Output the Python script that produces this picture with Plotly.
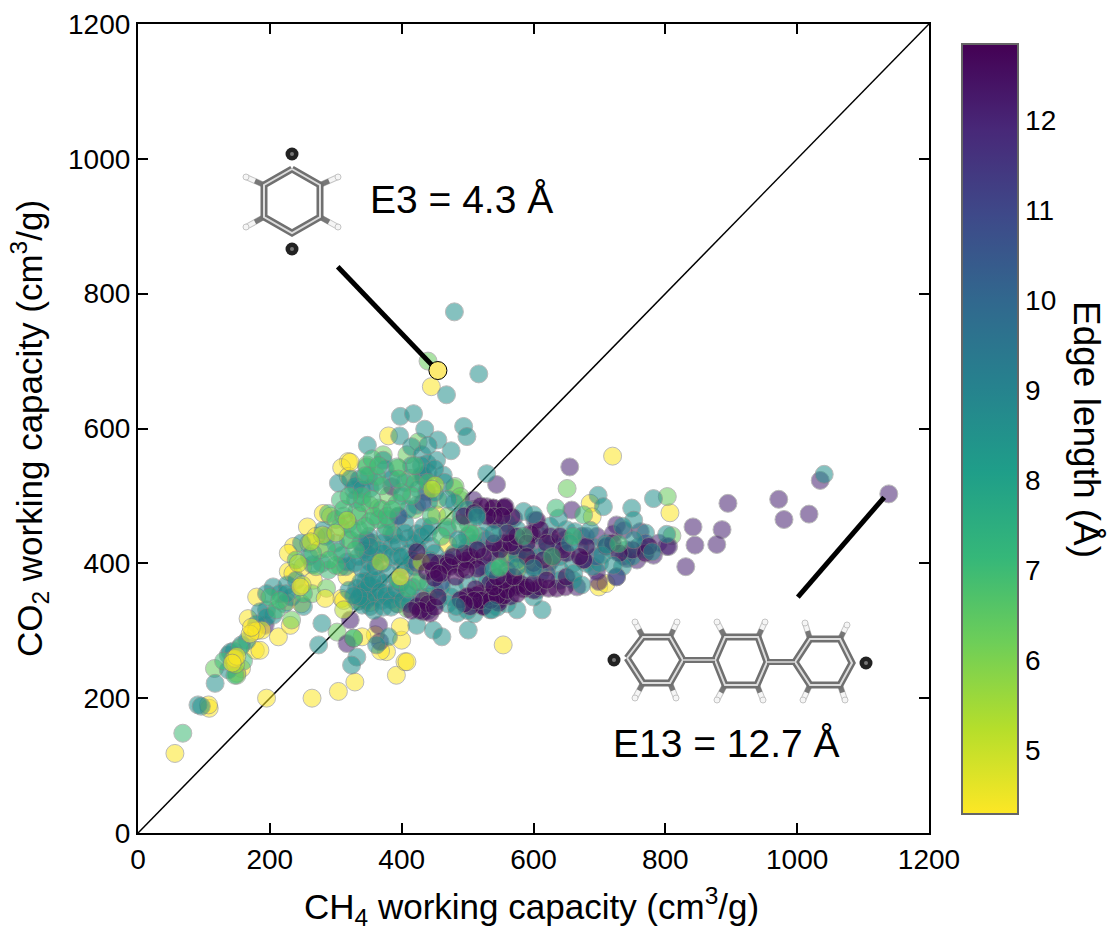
import plotly.graph_objects as go

# Edge lengths (Angstrom) of the point groups
EDGE_YELLOW = 4.3
EDGE_LIME = 5.2
EDGE_LIGHTGREEN = 6.3
EDGE_GREEN = 7.0
EDGE_TEAL = 8.6
EDGE_BLUE = 10.8
EDGE_PURPLE = 12.1
EDGE_DARK = 12.7

yellow_pts = [(56,118),(108,185),(107,190),(195,200),(264,200),(304,210),(329,224),(392,234),(405,254),(408,254),
(377,269),(360,294),(400,286),(398,306),(340,291),(554,279),(445,662),(380,589),(319,551),(309,542),(319,529),(322,550),
(281,474),(257,454),(236,425),(228,415),(228,388),(259,430),(180,350),(167,318),(213,291),(178,271),
(185,271),(157,244),(150,237),(231,308),(309,348),(266,375),(226,343),(248,340),(317,380),
(418,397),(453,472),(720,559),(807,475),(686,489),(689,469),(699,365),(582,412),(575,390),(270,440),(292,470),
(312,345),(335,345),(368,270),(352,342),(395,340),(470,428),(440,350),(710,370),(620,395),
(555,415),(565,405),(590,400),(235,385),(250,395),(275,420)]
yellow_front = [(147,259),(150,262),(143,252),(175,299),(188,301),(180,300),(170,295),(172,305),(284,348),(398,380),(246,365)]
lime_pts = [(451,516),(317,464),(280,442),(243,400),(312,331),(249,368),(446,510),(300,445),(262,432),(368,402),(430,402),(145,258),(148,250)]
lightgreen_pts = [(116,244),(150,234),(479,511),(489,494),(372,561),(395,541),(413,526),(425,580),(408,561),(355,430),(365,482),
(352,486),(327,289),(302,298),(423,373),(408,333),(264,355),(233,316),(286,363),(307,395),(319,435),(347,546),(651,511),(803,499),
(810,441),(481,514),(489,499),(440,700),(380,500),(335,470),(420,480),(455,495),(470,470),(510,480),(385,445)]
purple_pts = [(1139,503),(1035,523),(972,495),(980,465),(1018,473),(895,489),(842,454),(886,450),(845,427),(878,428),(831,395),
(655,543),(544,517),(658,479),(726,457),(762,447),(721,444),(802,425),(782,412),(757,405),(742,407),(726,380),(696,388),(699,373),
(666,365),(605,360),(347,435),(342,420),(385,514),(433,529),(438,506),(317,281),(365,308),(367,284),(193,308),(322,316),(570,467),
(605,425),(648,435),(673,440),(696,440),(737,449),(625,402),(575,415),(529,435),(737,410),(790,430),(805,425),(509,494),(555,482)]
green_pts = [(68,148),(289,474),(332,477),(307,494),(393,489),(377,454),(352,462),(319,459),(322,435),(302,417),(286,422),(289,390),
(307,454),(362,529),(393,543),(347,543),(420,519),(501,459),(428,373),(509,444),(468,454),(147,234),(327,289),(251,355),
(210,331),(504,444),(489,459),(340,490),(365,465),(330,420),(300,397),(290,405),
(270,395),(240,405),(415,500),(445,470),(460,440),(395,375),(410,362),(160,255),(370,515),(345,530),(200,350),(440,520),(490,430),
(300,465),(312,470),(325,450),(335,450),(345,455),(358,470),(370,480),(378,470),(340,500),(312,480),(355,495),
(320,500),(385,480),(400,505),(420,545),(395,525),(355,555),(365,545),(130,255),(155,275),(215,345),(265,415)]
green_front = [(634,482),(676,472),(729,429),(628,410),(549,395),(548,393),(585,440),(660,440)]
teal_pts = [(480,773),(517,681),(468,650),(398,618),(418,622),(435,599),(397,589),(455,583),(494,603),(499,588),(475,567),(348,575),
(415,573),(431,561),(372,553),(439,548),(453,553),(463,531),(529,533),(304,519),(327,509),(336,525),(352,511),(423,486),(441,491),
(585,477),(423,444),(410,437),(388,442),(372,430),(352,402),(372,400),(395,410),(433,454),(317,402),
(281,449),(248,430),(279,400),(205,365),(195,355),(195,331),(226,368),(233,350),(251,336),(185,328),(205,323),(345,373),(332,363),
(360,363),(375,370),(390,355),(393,340),(352,336),(332,343),(370,345),(408,355),(423,308),(448,301),(461,291),(501,301),(279,311),
(274,279),(332,261),(324,249),(380,291),(362,279),(484,326),(534,331),(575,331),(613,331),(157,279),(137,264),(137,242),(117,222),
(91,190),(96,188),(140,268),(1041,532),(782,496),(749,482),(752,464),(802,443),
(385,425),(400,395),(350,385),(340,392),(335,410),(365,420),(380,385),(425,420),(445,425),(420,395),(450,415),(470,405),(500,425),
(520,440),(350,350),(365,375),(320,360),(338,355),(405,390),(430,350),(455,345),(475,350),(510,325),(525,340),(560,340),(600,350),
(640,390),(380,465),(395,470),(405,460),(445,455),(405,520),(430,530),(450,505),(410,480),(315,395),(215,355),(222,340),
(265,398),(300,430),(350,440),(490,345),(560,460),(610,440),(625,455),(690,425),(735,455),(770,445),(545,425),(575,450),
(338,372),(344,360),(350,368),(356,376),(362,350),(368,358),(376,352),(384,346),(392,362),(398,370),(346,345),(340,338),(358,330),
(372,335),(384,335),(402,345),(412,340),(335,350),(327,352),(416,365),(360,410),(372,415),(385,410),(395,430),(410,415),(420,430),
(430,440),(440,445),(405,445),(375,445),(360,395),(348,415),(352,425),(338,430),(328,400),(310,412),(415,405),(400,410),(443,405),
(350,530),(360,520),(375,540),(385,525),(400,500),(425,510),(440,535),(430,545),(415,545),(450,540),(440,575),(465,520),(480,490),
(470,495),(330,495),(322,525),(330,515),(340,510),(500,440),(520,420),(470,450),(490,470),(500,480),(530,460),(550,450),(510,430),
(480,415),(570,440),(590,420),(610,410),(630,430),(650,450),(670,425),(640,410),(660,400),(620,420),(680,400),(520,380),(500,370),
(530,375),(480,365),(500,330),(515,340),(470,340),(545,335),(560,380),(590,380),(610,385),(640,375),(660,375),(690,395),(710,430),
(720,420),(740,420),(760,425),(770,420),(750,410),(735,395),(700,400),(460,365),(450,360),(440,370),(145,270),(165,285),(180,310),
(195,320),(225,355),(240,375),(260,410),(285,440),(560,410),(575,405),(545,405),(585,420),(530,395)]
blue_pts = [(602,464),(567,430),(600,395),(726,380),(676,405),(423,400),(460,372),(520,395),(560,390),(640,425),(695,410),(395,470),
(432,490),(540,370),(620,385),(680,440),(770,430),(440,330)]
dark_pts = [(438,388),(456,400),(471,402),(461,385),(491,392),(509,405),(534,415),(555,430),(570,425),(598,442),(605,464),(539,482),
(529,484),(555,482),(567,469),(542,464),(468,397),(448,390),(489,400),(504,410),(501,350),(519,355),(539,355),(549,360),(534,370),
(565,370),(577,368),(600,360),(524,336),(547,345),(433,328),(423,336),(443,326),(433,345),(423,417),(539,482),(557,484),(595,444),
(625,440),(650,415),(676,405),(600,400),(549,420),(524,410),(499,405),(473,395),(565,430),(514,353),(499,351),(524,346),(549,360),
(547,341),(570,365),(580,370),(565,351),(610,365),(623,363),(635,363),(648,365),(524,336),(504,336),(489,346),(530,350),(555,352),
(512,362),(585,362),(450,378),(482,380),(515,392),(444,402),(456,385),(478,410),(498,390),(495,415),(515,420),(540,430),(575,440),
(560,445),(540,470),(552,470),(530,470),(590,430),(610,450),(620,430),(630,410),(640,440),(590,410),(615,405),(645,420),(680,425),
(710,425),(720,430),(750,420),(730,415),(770,415),(775,425),(520,345),(535,345),(545,352),(560,360),(575,355),(590,365),(510,345),
(495,340),(540,365),(555,375),(570,380),(600,370),(545,380),(620,375),(650,380),(670,410),(520,485),(495,470),(510,475),(440,340),
(428,330),(450,335),(415,330),(455,350)]
teal_front = [(486,435),(514,472),(539,444),(600,472),(638,467),(663,447),(686,449),(704,412),(752,435),(780,417),(600,393),(661,385),
(673,368),(539,390),(575,395),(698,501),(706,484),(711,427),(721,397),(655,430),(483,336),(537,331),(514,469)]

highlight_e3 = (455, 686)

TICKS = [0, 200, 400, 600, 800, 1000, 1200]
CBAR_TICKS = [5, 6, 7, 8, 9, 10, 11, 12]
DIAGONAL = [0, 1200]
POINTER_E3_X, POINTER_E3_Y = [303, 446], [840, 694]
POINTER_E13_X, POINTER_E13_Y = [1001, 1132], [350, 498]

# Molecule sketches, given in screen pixels of the picture and mapped to the axes
ring_e3 = [(292,169),(320,185),(320,217),(292,233),(264,217),(264,185),(292,169)]
h_e3 = [((320,185),(338,177)),((320,217),(338,227)),((264,185),(246,177)),((264,217),(246,227))]
dots_e3 = [(292,154),(292,249)]
rings_e13 = [
    [(627,658),(643,637),(670,637),(683,660),(670,683),(643,683),(627,658)],
    [(715,660),(725,637),(758,637),(767,662),(757,685),(725,685),(715,660)],
    [(795,662),(810,639),(840,639),(852,663),(840,685),(810,685),(795,662)],
]
links_e13 = [((683,660),(715,660)),((767,662),(795,662))]
h_e13 = [((643,637),(635,622)),((670,637),(677,622)),((643,683),(635,698)),((670,683),(676,698)),
         ((725,637),(717,622)),((758,637),(765,622)),((725,685),(717,700)),((757,685),(763,700)),
         ((810,639),(805,623)),((840,639),(847,625)),((810,685),(803,700)),((840,685),(845,700))]
dots_e13 = [(614,660),(866,663)]

L, R, T, B = 138, 929, 24, 833
FONT = "Liberation Sans"


def ax_x(p):
    return (p - L) / (R - L) * 1200


def ax_y(p):
    return (B - p) / (B - T) * 1200


fig = go.Figure()


def add_group(pts, edge, opacity=0.55):
    fig.add_trace(go.Scatter(
        x=[p[0] for p in pts], y=[p[1] for p in pts], mode="markers", showlegend=False,
        marker=dict(size=18, color=[edge] * len(pts), coloraxis="coloraxis", opacity=opacity,
                    line=dict(color="rgb(130,130,130)", width=1))))


def add_line(pts, color, width):
    fig.add_trace(go.Scatter(x=[ax_x(p[0]) for p in pts], y=[ax_y(p[1]) for p in pts], mode="lines",
                             showlegend=False, hoverinfo="skip",
                             line=dict(color=color, width=width, simplify=False)))


fig.add_trace(go.Scatter(x=DIAGONAL, y=DIAGONAL, mode="lines", showlegend=False,
                         line=dict(color="black", width=1.5)))
add_group(yellow_pts, EDGE_YELLOW)
add_group(lightgreen_pts, EDGE_LIGHTGREEN)
add_group(purple_pts, EDGE_PURPLE)
add_group(teal_pts, EDGE_TEAL)
add_group(blue_pts, EDGE_BLUE)
add_group(green_pts, EDGE_GREEN)
add_group(lime_pts, EDGE_LIME)
add_group(dark_pts, EDGE_DARK, 0.56)
add_group(teal_front, EDGE_TEAL)
add_group(green_front, EDGE_GREEN)
add_group(yellow_front, EDGE_YELLOW)

for xs, ys in [(POINTER_E3_X, POINTER_E3_Y), (POINTER_E13_X, POINTER_E13_Y)]:
    fig.add_trace(go.Scatter(x=xs, y=ys, mode="lines", showlegend=False, line=dict(color="black", width=5)))

fig.add_trace(go.Scatter(x=[highlight_e3[0]], y=[highlight_e3[1]], mode="markers", showlegend=False,
                         marker=dict(size=18, color="#fdea70", line=dict(color="black", width=1))))

all_h = h_e3 + h_e13
for h in all_h:
    add_line(h, "#c4c4c4", 6)
    add_line(h, "#f5f5f5", 4)
    add_line([h[0], ((h[0][0] + h[1][0]) / 2, (h[0][1] + h[1][1]) / 2)], "#777777", 5)
fig.add_trace(go.Scatter(x=[ax_x(h[1][0]) for h in all_h], y=[ax_y(h[1][1]) for h in all_h], mode="markers",
                         showlegend=False, marker=dict(size=6, color="#f5f5f5", line=dict(color="#c4c4c4", width=1))))
for ring in [ring_e3] + rings_e13:
    add_line(ring, "#707070", 7)
    add_line(ring, "#dddddd", 2)
for link in links_e13:
    add_line(link, "#707070", 6)
    add_line(link, "#dddddd", 1.5)

dots = dots_e3 + dots_e13
fig.add_trace(go.Scatter(x=[ax_x(p[0]) for p in dots], y=[ax_y(p[1]) for p in dots], mode="markers",
                         showlegend=False, marker=dict(size=13, color="#222222", line=dict(width=0))))
fig.add_trace(go.Scatter(x=[ax_x(p[0]) for p in dots], y=[ax_y(p[1]) for p in dots], mode="markers",
                         showlegend=False, marker=dict(size=4, color="#777777", line=dict(width=0))))

axis = dict(range=[0, 1200], tickvals=TICKS, ticks="inside", ticklen=10, tickwidth=2.2, tickcolor="black",
            showline=True, linecolor="black", linewidth=2.2, mirror="ticks", showgrid=False, zeroline=False,
            tickfont=dict(family=FONT, size=28, color="black"))
fig.update_layout(
    width=1112, height=928, autosize=False, plot_bgcolor="white", paper_bgcolor="white",
    margin=dict(l=L, r=1112 - R, t=T, b=928 - B, autoexpand=False), font=dict(family=FONT, color="black"),
    xaxis=dict(axis, automargin=False),
    yaxis=dict(axis, automargin=False, title=dict(text="CO<sub>2</sub> working capacity (cm<sup>3</sup>/g)",
                                font=dict(family=FONT, size=35))),
    coloraxis=dict(
        cmin=4.29, cmax=12.85, colorscale="Viridis", reversescale=True,
        colorbar=dict(x=(962 - L) / (R - L), xanchor="left", y=(B - 814) / (B - T), yanchor="bottom",
                      len=770 / (B - T), lenmode="fraction", thickness=56, thicknessmode="pixels",
                      xpad=0, ypad=0, outlinecolor="#666666", outlinewidth=2, tickvals=CBAR_TICKS, ticks="",
                      tickfont=dict(family=FONT, size=28, color="black"))),
    annotations=[
        dict(x=ax_x(368), y=ax_y(199), xref="x", yref="y", text="E3 = 4.3 Å", showarrow=False, xanchor="left",
             yanchor="middle", font=dict(family=FONT, size=39, color="black")),
        dict(x=ax_x(611), y=ax_y(743), xref="x", yref="y", text="E13 = 12.7 Å", showarrow=False, xanchor="left",
             yanchor="middle", font=dict(family=FONT, size=39, color="black")),
        dict(x=(1087 - L) / (R - L), y=(B - 429) / (B - T), xref="paper", yref="paper", text="Edge length (Å)",
             showarrow=False, textangle=90, xanchor="center", yanchor="middle",
             font=dict(family=FONT, size=37, color="black")),
        dict(x=(531 - L) / (R - L), y=(B - 906) / (B - T), xref="paper", yref="paper",
             text="CH<sub>4</sub> working capacity (cm<sup>3</sup>/g)", showarrow=False, xanchor="center",
             yanchor="middle", font=dict(family=FONT, size=35, color="black")),
    ],
)

fig.write_html("out.html", config=dict(displayModeBar=False), post_script="document.body.style.margin='0';")
